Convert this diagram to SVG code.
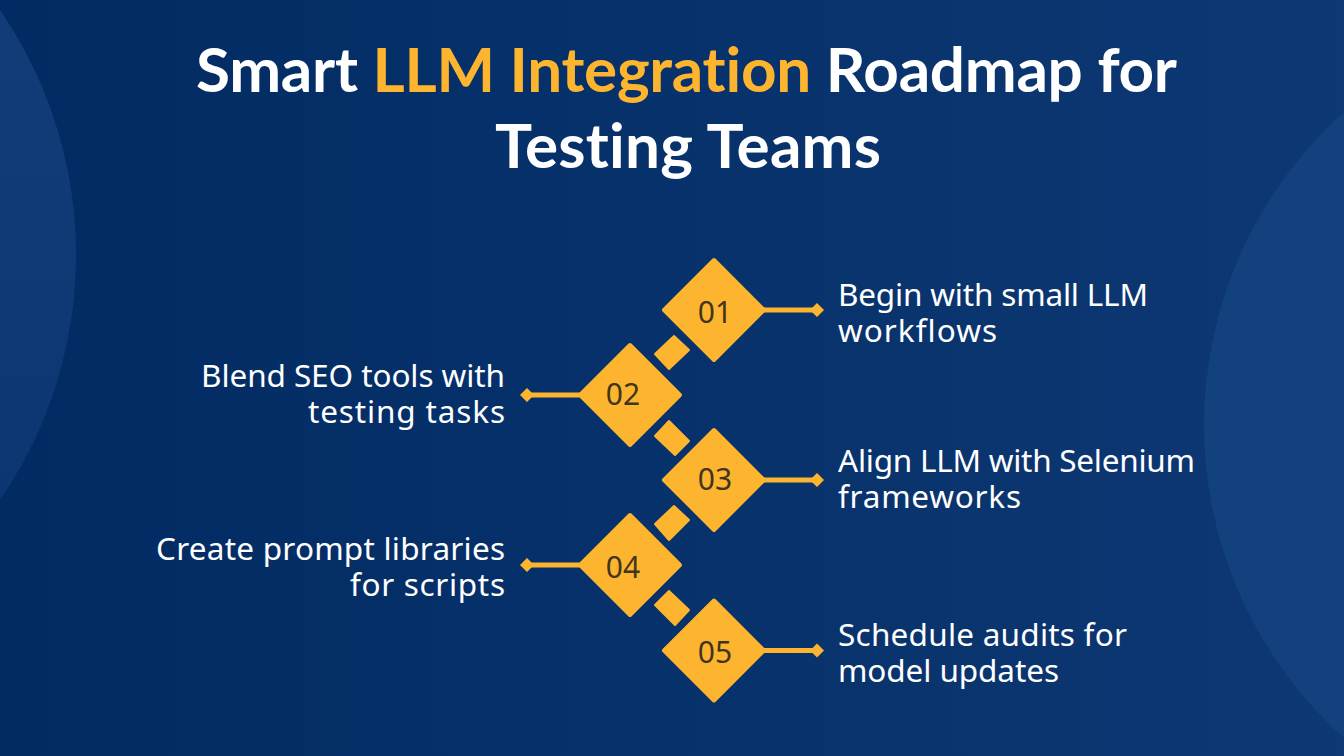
<svg xmlns="http://www.w3.org/2000/svg" width="1344" height="756" viewBox="0 0 1344 756">
<defs>
<linearGradient id="bg" x1="0" y1="0" x2="1" y2="0"><stop offset="0" stop-color="#022b63"/><stop offset="1" stop-color="#0d3873"/></linearGradient>
<linearGradient id="cl" x1="0" y1="0" x2="0" y2="1"><stop offset="0" stop-color="#143f7a"/><stop offset="1" stop-color="#0a3470"/></linearGradient>
<polygon id="d" points="0,-50 50,0 0,50 -50,0"/>
</defs>
<style>
text{font-variant-ligatures:none}
.t{font-family:"Noto Sans","Open Sans",sans-serif;font-size:31.5px;fill:#fff}
.h{font-family:"Lato","Noto Sans",sans-serif;font-size:62px;font-weight:700;fill:#fff}
.n{font-family:"Noto Sans",sans-serif;font-size:30px;fill:#43351c;text-anchor:middle}
.y{fill:#fdb52f}
.r{stroke:#fdb52f;stroke-width:4;stroke-linejoin:round}
.s{fill:#fdb52f;stroke:#fdb52f;stroke-width:2;stroke-linejoin:round}
.l{stroke:#fdb52f;stroke-width:5;fill:none}
</style>
<rect width="1344" height="756" fill="url(#bg)"/>
<circle cx="-357" cy="255" r="433" fill="url(#cl)"/>
<circle cx="1624" cy="425" r="420" fill="#13417d"/>
<text class="h" x="196" y="92" textLength="981" lengthAdjust="spacing">Smart <tspan class="y">LLM Integration</tspan> Roadmap for</text>
<text class="h" x="495" y="168" textLength="386" lengthAdjust="spacing">Testing Teams</text>
<g id="connectors">
<path class="l" d="M760 310H815M584 395H528M760 480H815M584 565H528M760 650.500H815"/>
<polygon class="y" points="810,310 817,303 824,310 817,317"/>
<polygon class="y" points="520,395 527,388 534,395 527,402"/>
<polygon class="y" points="810,480 817,473 824,480 817,487"/>
<polygon class="y" points="520,565 527,558 534,565 527,572"/>
<polygon class="y" points="810,650.500 817,643.500 824,650.500 817,657.500"/>
<polygon class="s" points="674,336 689,350 669,369 655,354"/>
<polygon class="s" points="669,421 689,441 675,455 655,436"/>
<polygon class="s" points="674,506 689,520 669,540 655,524"/>
<polygon class="s" points="669,591 689,610 675,625 655,605"/>
</g>
<g id="node-01"><use href="#d" x="714" y="310" class="y r"/><text class="n" x="715" y="323">01</text><text class="t"><tspan x="838" y="306" textLength="310" lengthAdjust="spacing">Begin with small LLM</tspan><tspan x="838" y="342" textLength="159" lengthAdjust="spacing">workflows</tspan></text></g>
<g id="node-02"><use href="#d" x="630" y="395" class="y r"/><text class="n" x="623" y="405">02</text><text class="t"><tspan x="201" y="387" textLength="304" lengthAdjust="spacing">Blend SEO tools with</tspan><tspan x="308" y="423" textLength="197" lengthAdjust="spacing">testing tasks</tspan></text></g>
<g id="node-03"><use href="#d" x="714" y="480" class="y r"/><text class="n" x="715" y="490">03</text><text class="t"><tspan x="838" y="472" textLength="357" lengthAdjust="spacing">Align LLM with Selenium</tspan><tspan x="838" y="508" textLength="183" lengthAdjust="spacing">frameworks</tspan></text></g>
<g id="node-04"><use href="#d" x="630" y="565" class="y r"/><text class="n" x="623" y="578">04</text><text class="t"><tspan x="156" y="560" textLength="349" lengthAdjust="spacing">Create prompt libraries</tspan><tspan x="350" y="596" textLength="155" lengthAdjust="spacing">for scripts</tspan></text></g>
<g id="node-05"><use href="#d" x="714" y="650.500" class="y r"/><text class="n" x="715" y="663">05</text><text class="t"><tspan x="838" y="646" textLength="289" lengthAdjust="spacing">Schedule audits for</tspan><tspan x="838" y="682" textLength="221" lengthAdjust="spacing">model updates</tspan></text></g>
</svg>
